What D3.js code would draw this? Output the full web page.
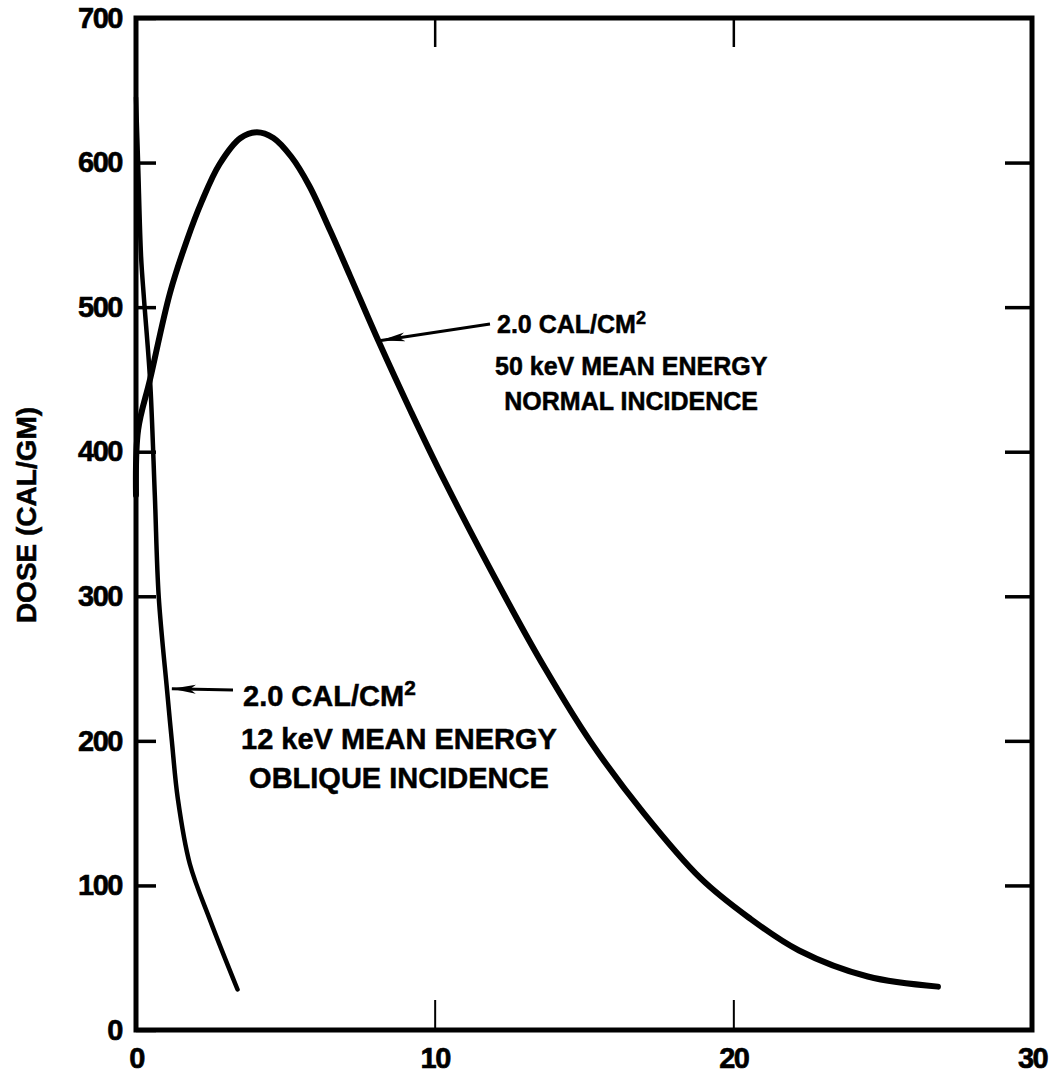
<!DOCTYPE html>
<html>
<head>
<meta charset="utf-8">
<script src="https://cdn.jsdelivr.net/npm/d3@7"></script>
<style>
  body { margin: 0; background: #fff; }
  text { font-family: "Liberation Sans", Arial, sans-serif; font-weight: bold; fill: #000; }
</style>
</head>
<body>
<div id="chart"></div>
<script>
//tick values of the frame
var xTicks = [0, 10, 20, 30];
var xInnerTicks = [10, 20];
var yTicks = [0, 100, 200, 300, 400, 500, 600, 700];
var yInnerTicks = [100, 200, 300, 400, 500, 600];

//50 keV normal incidence curve (depth, dose)
var normalDepth = [0, 0.07, 0.47, 1.14, 1.7, 2.2, 2.8, 3.5, 4.05, 4.6, 5.2, 5.8, 6.5, 7.16, 8.13, 9.2, 10.3, 12.35, 13.7, 15.2, 17.0, 18.9, 20.5, 22.2, 24.5, 26.85];
var normalDose = [370, 415, 450, 510, 546, 573, 599, 617, 621, 617, 604, 584, 553, 522, 476, 428, 381, 300, 250, 200, 150, 105, 78, 55, 37, 30];

//12 keV oblique incidence curve
var obliqueDepth = [0, 0.07, 0.17, 0.27, 0.47, 0.63, 0.76, 1.04, 1.2, 1.4, 1.8, 2.48, 3.4];
var obliqueDose = [645, 600, 535, 505, 450, 370, 300, 235, 200, 160, 115, 76, 28];

//annotation texts
var normalLabel = ["2.0 CAL/CM", "50 keV MEAN ENERGY", "NORMAL INCIDENCE"];
var obliqueLabel = ["2.0 CAL/CM", "12 keV MEAN ENERGY", "OBLIQUE INCIDENCE"];
var yTitle = "DOSE (CAL/GM)";

var width = 1052,
  height = 1073;
var margin = { left: 136, right: 20, top: 18, bottom: 43 };

var svg = d3
  .select("#chart")
  .append("svg")
  .attr("width", width)
  .attr("height", height);

var x = d3
  .scaleLinear()
  .domain([0, 30])
  .range([margin.left, width - margin.right]);

var y = d3
  .scaleLinear()
  .domain([0, 700])
  .range([height - margin.bottom, margin.top]);

//arrow head used by both annotations, tip sits on the line end
svg
  .append("defs")
  .append("marker")
  .attr("id", "head")
  .attr("markerUnits", "userSpaceOnUse")
  .attr("viewBox", "-24 -5 24 10")
  .attr("refX", 0)
  .attr("refY", 0)
  .attr("markerWidth", 24)
  .attr("markerHeight", 10)
  .attr("orient", "auto")
  .append("path")
  .attr("d", "M0,0L-24,-4.5L-18,0L-24,4.5Z")
  .attr("fill", "#000");

function styleAxis(g, width) {
  g.select(".domain").remove();
  g.selectAll(".tick line").attr("stroke", "#000").attr("stroke-width", width);
  g.selectAll(".tick text")
    .attr("font-size", 29)
    .attr("font-family", "Liberation Sans, Arial, sans-serif")
    .attr("letter-spacing", -1.5)
    .attr("fill", "#000")
    .attr("stroke", "#000")
    .attr("stroke-width", 0.6);
}

//left axis, ticks point inward
svg
  .append("g")
  .attr("transform", "translate(" + x(0) + ",0)")
  .call(d3.axisLeft(y).tickValues(yTicks).tickSize(-20).tickPadding(14))
  .call(styleAxis, 3.5);

//right axis, ticks only
svg
  .append("g")
  .attr("transform", "translate(" + x(30) + ",0)")
  .call(d3.axisRight(y).tickValues(yInnerTicks).tickSize(-27).tickFormat(""))
  .call(styleAxis, 3.5);

//top axis, ticks only
svg
  .append("g")
  .attr("transform", "translate(0," + y(700) + ")")
  .call(d3.axisTop(x).tickValues(xInnerTicks).tickSize(-29).tickFormat(""))
  .call(styleAxis, 2.5);

//bottom axis with labels
var bottom = svg
  .append("g")
  .attr("transform", "translate(0," + y(0) + ")")
  .call(d3.axisBottom(x).tickValues(xTicks).tickSize(-30).tickPadding(17))
  .call(styleAxis, 2);
bottom.selectAll(".tick line").filter(function(d) { return d == 0 || d == 30; }).remove();

//frame
svg
  .append("rect")
  .attr("x", x(0))
  .attr("y", y(700))
  .attr("width", x(30) - x(0))
  .attr("height", y(0) - y(700))
  .attr("fill", "none")
  .attr("stroke", "#000")
  .attr("stroke-width", 5);

var line = d3
  .line()
  .x(function(d) { return x(d[0]); })
  .y(function(d) { return y(d[1]); })
  .curve(d3.curveCatmullRom.alpha(0.5));

svg
  .append("path")
  .datum(d3.zip(normalDepth, normalDose))
  .attr("d", line)
  .attr("fill", "none")
  .attr("stroke", "#000")
  .attr("stroke-width", 6)
  .attr("stroke-linecap", "round");

svg
  .append("path")
  .datum(d3.zip(obliqueDepth, obliqueDose))
  .attr("d", line)
  .attr("fill", "none")
  .attr("stroke", "#000")
  .attr("stroke-width", 4.5)
  .attr("stroke-linecap", "round");

//y axis title
svg
  .append("text")
  .attr("transform", "translate(36,515) rotate(-90)")
  .attr("text-anchor", "middle")
  .attr("font-size", 28)
  .attr("stroke", "#000")
  .attr("stroke-width", 0.5)
  .text(yTitle);

//draws a three line label with an arrow pointing to its curve
//second line is left aligned with the first, third is centred on the second
function drawLabel(lines, size, left, baselines, tail, tip) {
  var g = svg.append("g").attr("font-size", size).attr("stroke", "#000").attr("stroke-width", 0.5);
  var first = g
    .append("text")
    .attr("x", left)
    .attr("y", baselines[0])
    .text(lines[0]);
  first
    .append("tspan")
    .attr("font-size", size * 0.72)
    .attr("dy", -size * 0.38)
    .text("2");
  var second = g
    .append("text")
    .attr("x", left - 2)
    .attr("y", baselines[1])
    .text(lines[1]);
  var w = second.node().getComputedTextLength();
  g.append("text")
    .attr("x", left - 2 + w / 2)
    .attr("y", baselines[2])
    .attr("text-anchor", "middle")
    .text(lines[2]);
  g.append("line")
    .attr("x1", tail[0])
    .attr("y1", tail[1])
    .attr("x2", x(tip[0]))
    .attr("y2", y(tip[1]))
    .attr("stroke", "#000")
    .attr("stroke-width", 3)
    .attr("marker-end", "url(#head)");
}

drawLabel(normalLabel, 25, 497, [333, 375, 410], [490, 324], [8.2, 477]);
drawLabel(obliqueLabel, 29, 243, [706, 749, 788], [233, 690], [1.2, 236]);
</script>
</body>
</html>
